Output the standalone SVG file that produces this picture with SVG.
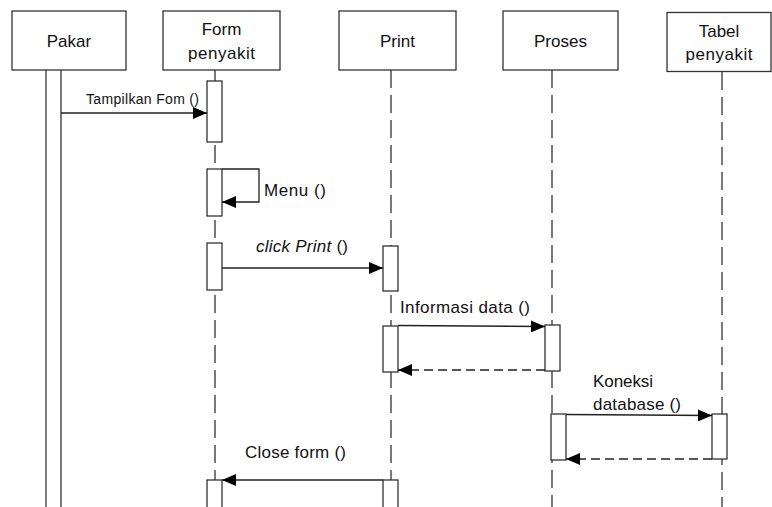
<svg xmlns="http://www.w3.org/2000/svg" width="772" height="507" viewBox="0 0 772 507">
<style>
.box{fill:#fff;stroke:#333;stroke-width:1.3}
.act{fill:#fff;stroke:#333;stroke-width:1.3}
.life{stroke:#333;stroke-width:1.3;stroke-dasharray:18 7;fill:none}
.msg{stroke:#222;stroke-width:1.3;fill:none}
.ret{stroke:#222;stroke-width:1.3;fill:none;stroke-dasharray:9 5}
text{font-family:"Liberation Sans","Open Sans",sans-serif;fill:#111}
.h{font-size:17px;text-anchor:middle}
.l{font-size:17px}
</style>
<defs>
<marker id="ah" markerUnits="userSpaceOnUse" markerWidth="14" markerHeight="12" refX="14" refY="6" orient="auto">
<path d="M0,0 L14,6 L0,12 z" fill="#000"/>
</marker>
</defs>
<rect width="772" height="507" fill="#fff"/>
<g id="lifelines">
<line class="life" x1="215" y1="70" x2="215" y2="507"/>
<line class="life" x1="391" y1="70" x2="391" y2="507"/>
<line class="life" x1="552" y1="70" x2="552" y2="507"/>
<line class="life" x1="722" y1="72" x2="722" y2="507"/>
</g>
<g id="pakar">
<rect class="box" x="12" y="11" width="114" height="59"/>
<text class="h" x="69" y="47">Pakar</text>
<line x1="46" y1="70" x2="46" y2="507" stroke="#333" stroke-width="1.3"/>
<line x1="61" y1="70" x2="61" y2="507" stroke="#333" stroke-width="1.3"/>
</g>
<g id="form-penyakit">
<rect class="box" x="163" y="11" width="117" height="59"/>
<text class="h" x="221.5" y="35">Form</text>
<text class="h" x="221.5" y="59" textLength="67">penyakit</text>
<rect class="act" x="207" y="81" width="15" height="61"/>
<rect class="act" x="207" y="169" width="15" height="47"/>
<rect class="act" x="207" y="243" width="15" height="47"/>
<rect class="act" x="207" y="480" width="15" height="30"/>
</g>
<g id="print">
<rect class="box" x="339" y="11" width="117" height="59"/>
<text class="h" x="397.5" y="47">Print</text>
<rect class="act" x="383" y="246" width="15" height="45"/>
<rect class="act" x="383" y="326" width="15" height="46"/>
<rect class="act" x="383" y="480" width="15" height="30"/>
</g>
<g id="proses">
<rect class="box" x="503" y="11" width="115" height="59"/>
<text class="h" x="560.5" y="47">Proses</text>
<rect class="act" x="545" y="325" width="15" height="46"/>
<rect class="act" x="551" y="414" width="15" height="46"/>
</g>
<g id="tabel-penyakit">
<rect class="box" x="667" y="12.5" width="104" height="59"/>
<text class="h" x="719" y="37">Tabel</text>
<text class="h" x="719" y="60" textLength="67">penyakit</text>
<rect class="act" x="712" y="414" width="15" height="45"/>
</g>
<g id="connectors">
<line class="msg" x1="61" y1="113" x2="207" y2="113" marker-end="url(#ah)"/>
<polyline class="msg" points="222,169 259,169 259,202 222,202" marker-end="url(#ah)"/>
<line class="msg" x1="222" y1="268" x2="383" y2="268" marker-end="url(#ah)"/>
<line class="msg" x1="398" y1="325.5" x2="545" y2="326.5" marker-end="url(#ah)"/>
<line class="ret" x1="545" y1="370" x2="398" y2="370" marker-end="url(#ah)"/>
<line class="msg" x1="566" y1="414.5" x2="712" y2="415.5" marker-end="url(#ah)"/>
<line class="ret" x1="712" y1="459" x2="566" y2="459" marker-end="url(#ah)"/>
<line class="msg" x1="383" y1="480" x2="222" y2="480" marker-end="url(#ah)"/>
</g>
<g id="labels">
<text x="86" y="103.5" font-size="14" textLength="113">Tampilkan Fom ()</text>
<text class="l" x="264" y="195.5" textLength="62">Menu ()</text>
<text class="l" x="256" y="251.5" textLength="92"><tspan font-style="italic">click Print</tspan> ()</text>
<text class="l" x="400" y="313" textLength="130">Informasi data ()</text>
<text class="l" x="593" y="386.5" textLength="60">Koneksi</text>
<text class="l" x="593" y="410" textLength="88">database ()</text>
<text class="l" x="245" y="458" textLength="101">Close form ()</text>
</g>
</svg>
